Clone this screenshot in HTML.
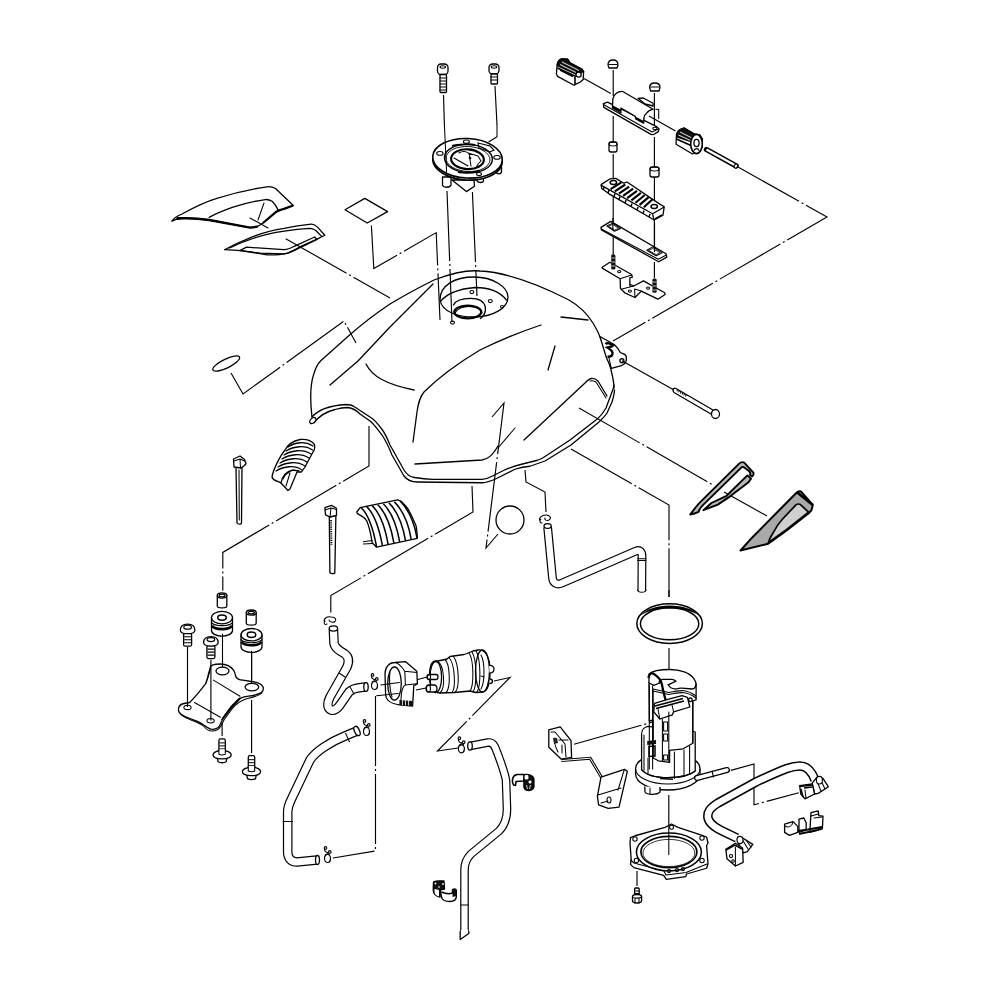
<!DOCTYPE html>
<html><head><meta charset="utf-8">
<style>
html,body{margin:0;padding:0;background:#fff;width:1000px;height:1000px;overflow:hidden}
svg{display:block}
.o{fill:none;stroke:#000;stroke-width:1.3;stroke-linecap:round;stroke-linejoin:round}
.t{fill:none;stroke:#000;stroke-width:1.05;stroke-linecap:round;stroke-linejoin:round}
.w{fill:#fff;stroke:#000;stroke-width:1.3;stroke-linejoin:round}
.d{fill:none;stroke:#000;stroke-width:1.15;stroke-dasharray:70 3 2 3}
.k{fill:#111;stroke:#000;stroke-width:1.2}
</style></head><body>
<svg width="1000" height="1000" viewBox="0 0 1000 1000">
<!-- A: fuel cap & bolts -->
<g id="A">
<path class="d" d="M443.5,95 L444.4,125 M447,191 L452,322"/>
<path class="d" d="M495,86 L497,125 M472.4,192 L477,296"/>
<rect class="w" x="437.5" y="64" width="10.5" height="10.5" rx="3.5"/><ellipse class="t" cx="442.8" cy="67" rx="2.8" ry="1.2"/>
<rect class="w" x="440" y="74.5" width="6.5" height="18" rx="1"/>
<path class="t" d="M440,78h6.5M440,81h6.5M440,84h6.5M440,87h6.5M440,90h6.5"/>
<rect class="w" x="489" y="64" width="10" height="10" rx="3.5"/><ellipse class="t" cx="494" cy="67" rx="2.8" ry="1.2"/>
<rect class="w" x="491" y="74" width="6.5" height="10" rx="1"/>
<path class="t" d="M491,77h6.5M491,80h6.5"/>
</g>
<!-- D: tank -->
<g id="D">
<path class="o" d="M312,417 C310,400 310,385 313.8,374 C315.5,368 317.5,364 321,360.5 L349,335.6 C362,324 372,316 390,304 C405,295 420,287 434,280 C455,272 470,270 480,271 C500,272 530,280 569,300 C590,312 600,330 610,366 C612,374 614,380 614,388"/>
<path class="o" d="M312,417 C318,410 330,405.5 346,404.5 C350,404.5 352,405 354,406.5 L370,417 C375,420 378,424 381,428 C385,433 388,440 390,445 L404,470 C407,475 410,477 414.5,477.5 C420,478.5 426,479.3 432.5,479.3 L482,479.3 C486,479 489,478 492.5,476 L503,470.75 C510,467.5 516,465.5 522.5,464 L537.5,460.25 C541,459 543,458 545,456.5 L570,440 L596,420 C600,417 603,413 606,408 L612,392 C613.5,388 614,386 614,385"/>
<path class="o" d="M314,423 C318,417 325,412 335,409.5 C340,408 344,407.5 348,407.5 C352,408 356,410 360,414 L370,421 C374,424 378,430 382,435 C386,441 390,450 392,455 L404,476 C407,480 412,482 417.5,482 L482,482.75 C488,482.5 492,480.5 497,478.25 L515,469.25 C520,467.5 525,466.5 530,466.25 L545,461 L571,445 L599,422 C603,418 606,415 607,413 L612,402 C613.5,397 614.5,393 614.5,390"/>
<ellipse cx="312.8" cy="420.5" rx="3.6" ry="2.3" transform="rotate(-45 312.8 420.5)" fill="#fff" stroke="#000" stroke-width="1.2"/>
<path class="o" d="M330,385 L358,361 L390,327 L433,284"/>
<path class="o" d="M366,364 C372,376 385,384 414,390"/>
<path class="o" d="M541,325 C520,332 500,340 480,350 C460,362 440,376 424,392 C419,398 418,405 417,412 L413,442"/>
<path class="o" d="M561,317 L588,320"/>
<path class="o" d="M555,346 L548,370"/>
<path class="o" d="M524,440 L585,383 C587,381 589,379 591,378.5 C594,378 596,379 598,381 L607,396"/><path class="t" d="M590,381 C592,380.5 594,381 596,382 L606,398"/>
<path class="o" d="M415,464 L482,460 C488,459 492,456 498,446"/>
<path class="o" d="M440,300 C440,285 455,277 474,277 C493,277 508,287 508,297 C508,308 493,317 474,317 C458,317 442,312 440,300"/>
<path class="o" d="M440.8,301 C446,295 457,289 475,287.5 C490,287.5 501,293 506.5,300.1"/>
<path class="o" d="M453.4,305 C456,300 463,298.3 470.5,298.3 C478,298.3 484,301 485.3,307 C486,312 484,316 480.4,318.5"/>
<ellipse cx="467.8" cy="312" rx="13.5" ry="6.3" fill="none" stroke="#000" stroke-width="2.3"/>
<path class="t" d="M455,313 C458,308 464,306.5 469,306.5 C476,306.5 481,309 482,313"/>
<ellipse class="t" cx="471.85" cy="292" rx="2" ry="1.6"/><ellipse class="t" cx="490.3" cy="301" rx="2" ry="1.6"/><ellipse class="t" cx="502" cy="306.85" rx="1.6" ry="1.3"/><ellipse class="t" cx="452.5" cy="322.6" rx="2" ry="1.5"/>
</g>
<!-- B: top right hinge -->
<g id="B">
<path class="d" d="M584,78.4 L610.8,93.6"/>
<path class="d" d="M649,116 L675.5,131"/>
<path class="d" d="M738,167 L827,217 L613,341"/>
<path class="d" d="M613.2,70 L613.2,96 M613.2,116 L613.2,142 M613.2,154 L613.2,180 M613.2,190 L613.2,222 M613.2,232 L613.2,255"/>
<path class="d" d="M654.4,93 L654.4,125 M654.4,137 L654.4,167 M654.4,177 L654.4,205 M654.4,220 L654.4,252 M654.4,262 L654.4,278"/>
<!-- grommet L -->
<path class="w" d="M556.4,74 L557.2,64.4 C558,61 560,59 562,58.8 L567.6,59.2 L570,62.8 L582,69.2 L583.6,71.6 L583.2,79.6 L580.4,82 L574,85.2 L557.6,76.4 Z"/>
<path d="M557.2,64.4 C558,61 560,59 562,58.8 L567.6,59.2 L570,62.8 L582,69.2 L583.6,71.6 L576,74 L558,66 Z" fill="#111" stroke="#000" stroke-width="1.2"/>
<path d="M562,62 L579,70.5 M560,64.5 L576,72.5" stroke="#fff" stroke-width="0.9"/>
<path d="M557.5,68 L575,76 L575,84.5" fill="none" stroke="#000" stroke-width="1.6"/>
<path d="M560,70 L573,76.5" stroke="#000" stroke-width="1.6"/>
<circle cx="578.6" cy="74.6" r="2.6" fill="#fff" stroke="#000" stroke-width="1.3"/>
<!-- grommet R -->
<path class="w" d="M676,144 L676.5,134.5 C677,132 678,130.5 680,129.5 L684,128 L694.5,134 L700,135 L702.5,139 L702,147 L699.5,151.5 L692.5,154 L676.5,144.5 Z"/>
<path d="M676.5,134.5 C677,132 678,130.5 680,129.5 L684,128 L694.5,134 L692,142 L677,137 Z" fill="#111" stroke="#000" stroke-width="1.2"/>
<path d="M680,132 L693,138.5 M678.5,135 L691.5,141" stroke="#fff" stroke-width="0.9"/>
<path d="M676.5,139 L691,145.5" stroke="#000" stroke-width="1.6"/>
<ellipse cx="696.5" cy="144" rx="5.8" ry="9.6" fill="#fff" stroke="#000" stroke-width="1.6"/>
<ellipse cx="696.5" cy="143" rx="2.6" ry="3.6" fill="none" stroke="#000" stroke-width="1.3"/>
<path class="t" d="M694,150.5 C695,148 698,148 699,150.5"/>
<!-- nuts -->
<path class="w" d="M608,65 C608,61.5 610.5,60 613,60 C615.5,60 618,61.5 618,65 L617,68 L609,68 Z"/>
<path class="t" d="M609,64.5 H617"/>
<path class="w" d="M649.6,87.5 C649.6,84.5 652,83 654.8,83 C657.5,83 660,84.5 660,87.5 L659,91 L650.6,91 Z"/>
<path class="t" d="M650.6,87 H659"/>
<!-- collars -->
<rect class="w" x="609" y="142" width="8" height="10" rx="2"/>
<ellipse class="t" cx="613" cy="144" rx="4" ry="2"/>
<rect class="w" x="650" y="167" width="9" height="10" rx="2"/>
<ellipse class="t" cx="654.5" cy="169" rx="4.5" ry="2"/>
<!-- hinge bracket -->
<path class="w" d="M638,98.3 L643.3,98 L653.1,103.2 L653.1,106 L645,104 Z" stroke-width="1.4"/>
<path class="w" d="M603.4,103.6 L607.6,102.2 L656.6,126.7 L659,128.8 L658.4,131.6 L653.1,134.7 L651,134.4 L603.75,107.4 Z"/>
<path class="t" d="M603.5,104.5 L652,132 L658.5,129"/>
<path class="w" d="M612.5,105.3 L612.85,99 C613.5,96 614.5,94.5 616,93.4 C618,91.8 620,91.3 622.3,91.3 L653.1,109.2 C650,110 648,111 646.8,113 C645,114.5 644,116 644,117.6 L643.65,123.2 L635.6,118.6 L635.25,116.2 L620.9,108.1 L620.9,113 L612.5,108 Z"/>
<path d="M612.5,106.5 L620.9,111 M635.8,118 L643.6,122.2" stroke="#000" stroke-width="2.2"/>
<path class="t" d="M655.9,109.2 L658.7,109.5 L658.7,118.6"/>
<ellipse class="t" cx="654.85" cy="128.4" rx="2.1" ry="1.2"/>
<!-- pin -->
<path d="M706.5,149.5 L736,165.8" stroke="#000" stroke-width="5.4" stroke-linecap="round"/>
<path d="M706.5,149.5 L736,165.8" stroke="#fff" stroke-width="2.4" stroke-linecap="butt"/>
<ellipse cx="736" cy="166" rx="1.6" ry="2.2" transform="rotate(28 736 166)" fill="#fff" stroke="#000" stroke-width="1.1"/>
<!-- rubber strip -->
<path class="w" d="M601,185.2 L601.8,188.4 L608.6,193.6 L654.2,220 L663,215.2 L664.2,206.8 L659,203.6 L627,182 L623.8,183.2 L615.8,178.4 L610.2,178.8 L601.4,184.4 Z"/>
<path class="o" d="M601.8,185.6 L652.6,213.8 L663.8,207.2 M652.6,213.8 L654,220"/>
<path d="M621.4,182.4 L610.6,189.2 M625.3,184.5 L614.8,191.4 M629.2,186.6 L618.9,193.7 M633.1,188.7 L623.1,195.9 M637.0,190.8 L627.2,198.2 M640.9,192.9 L631.4,200.4 M644.8,195.0 L635.5,202.7 M648.7,197.1 L639.6,204.9 M652.6,199.2 L643.8,207.2 " stroke="#000" stroke-width="2.1" fill="none"/>
<path d="M603,190 L604,187.5 M608,193 L609,190 M614,196.5 L615,193.5 M619,199.5 L620,196.5 M625,203 L626,200 M631,206.5 L632,203.5 M637,210 L638,207 M643,213.5 L644,210.5 M649,217 L650,214 M655,219 L662,215" stroke="#000" stroke-width="1.5"/>
<ellipse cx="613.4" cy="182.6" rx="3.2" ry="2" fill="#fff" stroke="#000" stroke-width="1.5"/>
<ellipse cx="654.2" cy="206.4" rx="3.2" ry="2" fill="#fff" stroke="#000" stroke-width="1.5"/>
<!-- plate -->
<path class="w" d="M600.95,227.35 L610.7,221.4 L666,253.7 L666.8,257.1 L658.75,261.8 L601.4,229.9 Z"/>
<path class="t" d="M601.4,229 L658.3,259.2 L666.4,254.97"/>
<path class="t" d="M606.9,226 L612.85,223.1 L620.5,228.6 L614.55,231.2 Z M646.85,250.3 L652.8,246.9 L662.15,252.85 L656.2,255.8 Z"/>
<path d="M608.5,226.2 L612.8,224.4 L618.5,228.4 L614.5,230 Z M648.5,250.4 L652.8,248.4 L660,252.8 L656.2,254.6 Z" fill="none" stroke="#000" stroke-width="0.8"/>
<path class="d" d="M612.85,218 L612.85,230 M654.5,223 L654.5,252"/>
<!-- bracket -->
<path class="w" d="M602.2,267.3 L609.9,262.2 L631.55,274.5 L632.4,277.1 L629.85,277.9 L629.85,284.3 L633.7,286 L643.45,280.9 L664.7,292.8 L665.1,294.5 L657.9,299.2 L641.3,291.1 L634.95,297.5 L624.75,292.8 L620.5,288.55 L620.1,278.8 L602.2,268.15 Z"/>
<path class="t" d="M620.1,278.8 L631.5,275 M622,289 L633.7,286 M629.85,284.3 L630,287 M634.95,297.5 L634.6,289 L641.3,291.1"/>
<ellipse class="t" cx="619.2" cy="271.6" rx="1.6" ry="1.1"/>
<ellipse class="t" cx="629.85" cy="291.1" rx="1.6" ry="1.1"/>
<ellipse class="t" cx="648.1" cy="288.1" rx="1.6" ry="1.1"/>
<rect x="611.15" y="254.6" width="4.3" height="14.8" fill="#111" rx="1.5"/>
<path d="M611.2,258h4.2M611.2,262h4.2M611.2,266h4.2" stroke="#fff" stroke-width="0.7"/>
<rect x="652.4" y="278.4" width="4.3" height="14.4" fill="#111" rx="1.5"/>
<path d="M652.4,282h4.2M652.4,286h4.2M652.4,290h4.2" stroke="#fff" stroke-width="0.7"/>
</g>
<!-- C: left trims, decal, ellipse, leaders -->
<g id="C">
<path class="w" d="M171.8,221.2 C174,218 178,215.5 182,214 C195,207 205,202 216,198.7 C235,192.5 252,189 267,186.8 C270,186.3 273,187 275.5,188.5 L293.35,205.5 L284,208.9 C280,210 277,211 275.5,212.3 L263.6,222.5 C261,224.5 259,226 256.8,226.75 C254,227.6 252,227.8 250,227.6 L209.2,220 C200,218.6 190,218 182,218.25 C177,218.5 174,220 171.8,221.2 Z"/>
<path class="o" d="M209.2,217.4 C217,213 225,210 233,207.2 C245,203 255,201 265.3,199.55 C268,199.3 270,200 272.1,201.25 C274.5,203.5 276.5,206.5 278,209.75"/>
<path d="M177.5,218.3 L182,218.25 C190,218 200,218.6 209.2,220 L250,227.6 L256.8,226.75" fill="none" stroke="#000" stroke-width="2.4" stroke-linecap="round"/>
<path d="M263.6,222.5 L275.5,212.3 C277,211 280,210 284,208.9 L292.5,205.8" fill="none" stroke="#000" stroke-width="2.2" stroke-linecap="round"/>
<path class="t" d="M176,219.5 L183,218.5"/>
<path class="t" d="M264,203 L258,220 M250,218 L268,228"/>
<path class="w" d="M224.5,249.7 C233,245 242,241 250,237.8 C262,233 273,230 284,228.45 C293,226.5 303,225 311.2,224.2 C314,224 316,225.5 318,227.6 L324.8,235.25 L318,238.65 L301,246.3 C296,249 292,251.5 287.4,253.1 C281,254.8 274,255 267,254.8 L241.5,250.55 Z"/>
<path class="o" d="M229.6,248 C242,242 254,237.5 267,234.4 C281,231 295,229.5 309.5,228.45 C313,228.5 316,230.5 318,232.7 L321.4,236.1"/>
<path class="o" d="M239.8,250.55 L246.6,247.15 L284,249.7 C288,249.5 291,248 294.2,246.3 L314.6,237 L317.15,239.5 L295.9,249.7 C291,252 288,253.5 284,253.95 L260.2,253.1 Z"/>
<path class="d" d="M285.7,238.65 L390,298"/>
<path class="w" d="M345,209.8 L364.8,198.4 L387.6,211.6 L367.2,223 Z"/>
<path class="d" d="M371.4,225.5 L373.8,268.6 L436.2,232.6 L440,320"/>
<ellipse class="o" cx="226.2" cy="363.6" rx="14.8" ry="4.4" transform="rotate(-26 226.2 363.6)"/>
<path class="d" d="M231,373 L243,394 L344,321 L356,343"/>
<path class="d" d="M369,426 L369,466 L222.8,552.4 L222.8,590.8"/>
<path class="d" d="M472,486 L473,512 L330.8,595.6 L330.8,612.4"/>
<path class="d" d="M492,417 L504,403 L486,548 L498,534"/>
<path class="t" d="M515,428 L498,448"/>
<path class="d" d="M525,470 L526,482 L545,492 L546,512"/>
<path class="d" d="M571,449 L669,505 L669,597"/>
<path class="d" d="M579,408 L713,485 M724,492 L767,516"/>
<circle class="o" cx="510" cy="520" r="14"/>
</g>

<!-- F: left parts -->
<g id="F">
<!-- cable tie 1 -->
<path class="w" d="M236,467 L237,523 C238,524.5 241,524.5 241.5,523 L242,467 Z"/>
<path class="t" d="M239,470 L239.3,520"/>
<path class="w" d="M233.5,459 L240,456 L244.5,459.5 L246,463.5 L244.5,465.5 L241,468 L234,467 Z"/>
<path class="t" d="M234,461 L240,459 L244.5,461 M240,459 L240.5,468"/>
<!-- damper 1 -->
<path class="w" d="M272,477 C273,470 280,456 285,450 C288,445 291,441.5 300,439.5 C305,439 311,440 314.5,444.5 C315,448 314,451 313,452 L305,467 L301.5,472 L297,472 L290,489 L288,490.5 L281,483 C278,481 273,481 272,477 Z"/>
<path class="o" d="M288,447 C295,442 305,441 313,446 M286,451 C294,446 305,445 312.5,450 M284,455 C292,450 303,449 311,454 M282,459 C290,454 301,453 309,458 M280,463 C288,458 299,457 307,462 M278,467 C286,462 297,461 305,466 M276,471 C284,466 295,465 302,470"/>
<path class="o" d="M281,483 C282,477 285,472 293,470 L299,471"/>
<path class="t" d="M283,479 C285,474 288,472 290,473 L286,486"/>
<!-- cable tie 2 -->
<path class="w" d="M329.3,517 L329.9,572.5 C331,574 334,574 334.8,573 L335.9,515.3 Z"/>
<path d="M331,520 L331.5,545" stroke="#000" stroke-width="1.8" stroke-dasharray="1.2 1"/>
<path class="w" d="M324.9,507.6 L331.5,505.4 L336.5,508.2 L336.5,515.3 L329.9,517 L325.5,514.8 Z"/>
<path class="t" d="M325,510 L331,508 L336.5,509.5 M331,508 L330,517"/>
<!-- damper 2 -->
<path class="w" d="M356.8,512 L360.1,507.6 L397.5,499.9 L400.8,501 C405,505 409,510 409.6,512 C413,518 416,526 416.2,526.3 C417,532 417.5,536 417.3,538.4 L376.6,547.2 L372.2,542.8 C371,535 369,526 366.7,520.8 C364,517 360,515 357.4,513.7 Z"/>
<path d="M361.0,507.5 C369.0,515.0 373.5,530.0 376.6,547.0 M366.6,506.6 C374.6,514.1 379.3,528.6 382.4,545.7 M372.1,505.6 C380.1,513.3 385.1,527.1 388.1,544.4 M377.7,504.7 C385.7,512.4 390.9,525.7 393.9,543.1 M383.3,503.8 C391.3,511.6 396.6,524.3 399.7,541.9 M388.9,502.9 C396.9,510.7 402.4,522.9 405.5,540.6 M394.4,501.9 C402.4,509.9 408.2,521.4 411.2,539.3 M400.0,501.0 C408.0,509.0 414.0,520.0 417.0,538.0 " fill="none" stroke="#000" stroke-width="1.5"/>
<path class="t" d="M363.4,541.7 L372.2,540.6 M363.4,544 L372.2,543.5"/>
</g>

<!-- G: bracket assembly -->
<g id="G">
<path class="d" d="M251.6,651 L251.6,684"/>
<path class="t" d="M222.5,634 L222.5,672"/>
<!-- bracket -->
<path class="w" d="M178.4,710 C178.4,706 181,704 184,703.5 L189.6,702.5 C193,699 196,696 198,693.4 L205.7,683.6 C207,680 208,677 208.5,673.8 L210.6,667 C211,664.5 216,664 220.4,664 C226,664 230.2,665.4 233.7,670.3 C235,673 235.5,675 235.8,676.6 C237,679 240,680 242.8,680.1 L251.2,681.5 C256,682 261,683 263.1,687 C264,690 262,693 259.6,693.4 C257,694.5 252,696 248.4,696.2 C245,696.5 242,697.5 240,698.3 C236,701 234,704 231.6,706 L223,718 C221,723 220,726 218.3,727.5 C215,729.5 212,729.5 210.6,729 C207,728 205,726 203,724.5 C200,722 195,720.5 190,718.5 C184,716.5 178.4,714 178.4,710 Z"/>
<path class="t" d="M179,712 C181,716 186,718 190,719.5 C196,722 201,723.5 204,726.5 C206,729 209,731 212,731 C216,731 219,729.5 221,726 L224,720 L232,709 C235,705 240,701 246,699 C252,697.5 259,696 262,693 M240,698.3 C238,700 236,702 233,705 L223,718"/>
<path d="M221.8,720 L230.2,708.8 L240,698.3" fill="none" stroke="#000" stroke-width="2"/>
<path class="t" d="M213.4,680.1 L240,696.2 M194.5,702.5 L220.4,717.2 M210.6,666 C210,672 208,678 205.7,683.6"/>
<ellipse class="w" cx="222.5" cy="671" rx="6.5" ry="3.8" stroke-width="1.3"/>
<ellipse class="w" cx="251.9" cy="687.1" rx="6.8" ry="3.8" stroke-width="1.3"/>
<ellipse class="t" cx="187.5" cy="707.4" rx="3.6" ry="2.2"/>
<ellipse class="t" cx="210.6" cy="720.7" rx="3.6" ry="2.2"/>
<path class="w" d="M217.3,595.3 L217.3,605.9 C217.3,608.4 226.8,608.4 226.8,605.9 L226.8,595.3 Z"/>
<ellipse class="w" cx="222.05" cy="595.5" rx="4.75" ry="2.6"/>
<ellipse cx="222.05" cy="595.5" rx="2.95" ry="1.3" fill="none" stroke="#000" stroke-width="1.2"/>
<path class="w" d="M211.5,617.6 L211.5,630.2 C211.5,634.2 217,636.2 222,636.2 C227,636.2 232.5,634.2 232.5,630.2 L232.5,617.6 Z"/>
<path d="M212,625.7 C215,630.2 229,630.2 232,625.7" stroke="#000" stroke-width="2.6" fill="none"/>
<path class="t" d="M211.5,622.6 C215,626.6 229,626.6 232.5,622.6"/>
<ellipse class="w" cx="222" cy="617.6" rx="10.5" ry="6.2"/>
<ellipse cx="222" cy="617.6" rx="4.3" ry="2.7" fill="none" stroke="#000" stroke-width="1.5"/>
<path class="w" d="M246.3,612.4 L246.3,623.2 C246.3,625.7 256.2,625.7 256.2,623.2 L256.2,612.4 Z"/>
<ellipse class="w" cx="251.25" cy="612.6" rx="4.95" ry="2.6"/>
<ellipse cx="251.25" cy="612.6" rx="3.1500000000000004" ry="1.3" fill="none" stroke="#000" stroke-width="1.2"/>
<path class="w" d="M241.0,634.7 L241.0,646.4000000000001 C241.0,650.4000000000001 246.5,652.4000000000001 251.5,652.4000000000001 C256.5,652.4000000000001 262.0,650.4000000000001 262.0,646.4000000000001 L262.0,634.7 Z"/>
<path d="M241.5,641.9000000000001 C244.5,646.4000000000001 258.5,646.4000000000001 261.5,641.9000000000001" stroke="#000" stroke-width="2.6" fill="none"/>
<path class="t" d="M241.0,639.7 C244.5,643.7 258.5,643.7 262.0,639.7"/>
<ellipse class="w" cx="251.5" cy="634.7" rx="10.5" ry="6.2"/>
<ellipse cx="251.5" cy="634.7" rx="4.3" ry="2.7" fill="none" stroke="#000" stroke-width="1.5"/>
<rect class="w" x="183.6" y="633.2" width="8" height="13" rx="1.5" stroke-width="1.2"/>
<path d="M184.1,636.7h7M184.1,639.7h7M184.1,642.7h7" stroke="#000" stroke-width="1.1"/>
<path class="w" d="M180.29999999999998,630.2 C180.29999999999998,625.2 183.6,624.2 187.6,624.2 C191.6,624.2 194.9,625.2 194.9,630.2 C194.9,632.7 191.6,633.7 187.6,633.7 C183.6,633.7 180.29999999999998,632.7 180.29999999999998,630.2 Z"/>
<ellipse cx="187.6" cy="627.2" rx="3.8" ry="2" fill="none" stroke="#000" stroke-width="1.2"/>
<rect class="w" x="206.9" y="645.6" width="8" height="13" rx="1.5" stroke-width="1.2"/>
<path d="M207.4,649.1h7M207.4,652.1h7M207.4,655.1h7" stroke="#000" stroke-width="1.1"/>
<path class="w" d="M203.6,642.6 C203.6,637.6 206.9,636.6 210.9,636.6 C214.9,636.6 218.20000000000002,637.6 218.20000000000002,642.6 C218.20000000000002,645.1 214.9,646.1 210.9,646.1 C206.9,646.1 203.6,645.1 203.6,642.6 Z"/>
<ellipse cx="210.9" cy="639.6" rx="3.8" ry="2" fill="none" stroke="#000" stroke-width="1.2"/>
<rect class="w" x="218.9" y="738.9" width="6.4" height="15.399999999999977" rx="1.5" stroke-width="1.2"/>
<path d="M219.29999999999998,742.9h5.6M219.29999999999998,745.9h5.6M219.29999999999998,748.9h5.6" stroke="#000" stroke-width="1"/>
<path class="w" d="M216.9,756.3 L218.1,761.8 C220.1,763.0999999999999 224.1,763.0999999999999 226.1,761.8 L227.29999999999998,756.3 Z" stroke-width="1.2"/>
<path class="w" d="M213.0,754.8 C213.0,751.8 218.1,750.5 222.1,750.5 C226.1,750.5 231.2,751.8 231.2,754.8 C231.2,757.8 226.1,758.9 222.1,758.9 C218.1,758.9 213.0,757.8 213.0,754.8 Z" stroke-width="1.3"/>
<rect x="218.9" y="749.3" width="6.4" height="5" fill="#fff"/>
<path class="t" d="M218.9,749.3 L218.9,754.3 M225.29999999999998,749.3 L225.29999999999998,754.3 M218.9,754.3 C221.1,755.3 223.1,755.3 225.29999999999998,754.3"/>
<rect class="w" x="248.3" y="755.7" width="6.4" height="15.399999999999977" rx="1.5" stroke-width="1.2"/>
<path d="M248.7,759.7h5.6M248.7,762.7h5.6M248.7,765.7h5.6" stroke="#000" stroke-width="1"/>
<path class="w" d="M246.3,773.1 L247.5,778.6 C249.5,779.9 253.5,779.9 255.5,778.6 L256.7,773.1 Z" stroke-width="1.2"/>
<path class="w" d="M242.4,771.6 C242.4,768.6 247.5,767.3000000000001 251.5,767.3000000000001 C255.5,767.3000000000001 260.6,768.6 260.6,771.6 C260.6,774.6 255.5,775.7 251.5,775.7 C247.5,775.7 242.4,774.6 242.4,771.6 Z" stroke-width="1.3"/>
<rect x="248.3" y="766.1" width="6.4" height="5" fill="#fff"/>
<path class="t" d="M248.3,766.1 L248.3,771.1 M254.7,766.1 L254.7,771.1 M248.3,771.1 C250.5,772.1 252.5,772.1 254.7,771.1"/>

<path class="d" d="M187.5,647 L187.5,707 M210.9,660 L210.9,720.5"/>
<path class="t" d="M222.5,634 L222.5,667 M251.6,651 L251.6,683"/>
<path class="d" d="M222.1,723 L222.1,736 M251.6,700 L251.6,753"/>
</g>
<!-- H: hoses & canister -->
<g id="H">
<path class="d" d="M375.5,696 L375.5,851 L333,858"/>
<path class="d" d="M494,681 L510,677.5 L437.5,751 L458,748"/>

<path class="d" d="M416,680 L427,677 M416,690 L426,688"/>
<!-- hose 1 -->
<path d="M333.4,629 L334,643 C334.5,648 340,651 345,654 C349,657 349,662 347,667 L330,697 C327,703 327,708 331,710 C334,711 337,709 340,705 L349,692 C352,689 356,688 361,687.5 L366,687" fill="none" stroke="#000" stroke-width="9.6" stroke-linejoin="round"/>
<path d="M333.4,629 L334,643 C334.5,648 340,651 345,654 C349,657 349,662 347,667 L330,697 C327,703 327,708 331,710 C334,711 337,709 340,705 L349,692 C352,689 356,688 361,687.5 L366,687" fill="none" stroke="#fff" stroke-width="7.2" stroke-linejoin="round"/>
<ellipse class="w" cx="333.4" cy="628.5" rx="4.2" ry="2.6" stroke-width="1.3"/>
<ellipse class="w" cx="366" cy="687" rx="2.2" ry="4.4" stroke-width="1.3"/>
<path class="t" d="M339,673 L345,677 M350,687 L354,694"/>
<path class="t" d="M324.5,622 C323,619 327,616 331,617 C335,617 337,619 335,621.5 C333,623 329,622 329,620 M327,624 C325,625 323,624 325,621"/>
<g transform="translate(374.5 685.5)"><ellipse cx="0" cy="0" rx="3" ry="4" fill="none" stroke="#000" stroke-width="1.2"/><circle cx="-2" cy="-10.6" r="1.3" fill="none" stroke="#000" stroke-width="1.1"/><circle cx="2.3" cy="-6.6" r="1.3" fill="none" stroke="#000" stroke-width="1.1"/><path d="M-3,-9.8 C-3.2,-7.5 -2,-6 1,-5.8 M-2.5,-3 C-1.5,-5 1,-5.2 2.5,-4" fill="none" stroke="#000" stroke-width="1.1"/></g>
<!-- hose 2 -->
<path d="M357,731 L345,736 C330,742 315,752 310,760 L291,800 C288,806 287.7,808 287.7,812 L287.7,852 C287.7,858 291,862 297,862 L317,860" fill="none" stroke="#000" stroke-width="9.6" stroke-linejoin="round"/>
<path d="M357,731 L345,736 C330,742 315,752 310,760 L291,800 C288,806 287.7,808 287.7,812 L287.7,852 C287.7,858 291,862 297,862 L317,860" fill="none" stroke="#fff" stroke-width="7.2" stroke-linejoin="round"/>
<ellipse class="w" cx="357" cy="731" rx="2.5" ry="5" transform="rotate(-25 357 731)" stroke-width="1.5"/>
<ellipse class="w" cx="317.5" cy="860" rx="2" ry="4.5" stroke-width="1.5"/>
<path class="t" d="M283,821.5 L292.4,821.5 M345.6,733.2 L349.4,741.8"/>
<g transform="translate(366.5 731.5)"><ellipse cx="0" cy="0" rx="3" ry="4" fill="none" stroke="#000" stroke-width="1.2"/><circle cx="-2" cy="-10.6" r="1.3" fill="none" stroke="#000" stroke-width="1.1"/><circle cx="2.3" cy="-6.6" r="1.3" fill="none" stroke="#000" stroke-width="1.1"/><path d="M-3,-9.8 C-3.2,-7.5 -2,-6 1,-5.8 M-2.5,-3 C-1.5,-5 1,-5.2 2.5,-4" fill="none" stroke="#000" stroke-width="1.1"/></g>
<g transform="translate(327.5 858.5)"><ellipse cx="0" cy="0" rx="3" ry="4" fill="none" stroke="#000" stroke-width="1.2"/><circle cx="-2" cy="-10.6" r="1.3" fill="none" stroke="#000" stroke-width="1.1"/><circle cx="2.3" cy="-6.6" r="1.3" fill="none" stroke="#000" stroke-width="1.1"/><path d="M-3,-9.8 C-3.2,-7.5 -2,-6 1,-5.8 M-2.5,-3 C-1.5,-5 1,-5.2 2.5,-4" fill="none" stroke="#000" stroke-width="1.1"/></g>
<!-- hose 3 -->
<path d="M470,746 L488,742.5 C493,742 495,746 497,752 C500,760 504,770 506,780 L507,809 C507,818 504,826 499,831 L471,854 C467,858 464.5,862 464.5,870 L464.5,932" fill="none" stroke="#000" stroke-width="8.6" stroke-linejoin="round"/>
<path d="M470,746 L488,742.5 C493,742 495,746 497,752 C500,760 504,770 506,780 L507,809 C507,818 504,826 499,831 L471,854 C467,858 464.5,862 464.5,870 L464.5,932" fill="none" stroke="#fff" stroke-width="6.2" stroke-linejoin="round"/>
<path d="M460.2,931 L460.2,939.5 L468.8,933.5 L468.8,931" fill="#fff" stroke="#000" stroke-width="1.3" stroke-linejoin="round"/><rect x="461" y="930" width="7" height="2" fill="#fff"/>
<ellipse class="w" cx="470" cy="746" rx="2.3" ry="4.1" stroke-width="1.3"/>
<path class="t" d="M461,905 H468"/>
<g transform="translate(461.4 748.8)"><ellipse cx="0" cy="0" rx="3" ry="4" fill="none" stroke="#000" stroke-width="1.2"/><circle cx="-2" cy="-10.6" r="1.3" fill="none" stroke="#000" stroke-width="1.1"/><circle cx="2.3" cy="-6.6" r="1.3" fill="none" stroke="#000" stroke-width="1.1"/><path d="M-3,-9.8 C-3.2,-7.5 -2,-6 1,-5.8 M-2.5,-3 C-1.5,-5 1,-5.2 2.5,-4" fill="none" stroke="#000" stroke-width="1.1"/></g>
<!-- hose 4 -->
<path d="M547.6,527 L552.5,578 C553,583 557,585 561,583.5 L636,551 C640,549.5 642,552 642,556 L641.8,591" fill="none" stroke="#000" stroke-width="8.8" stroke-linejoin="round"/>
<path d="M547.6,527 L552.5,578 C553,583 557,585 561,583.5 L636,551 C640,549.5 642,552 642,556 L641.8,591" fill="none" stroke="#fff" stroke-width="6.4" stroke-linejoin="round"/>
<ellipse class="w" cx="547.6" cy="526" rx="3.6" ry="2.4" stroke-width="1.2"/>
<path class="t" d="M637.6,558.8 L646,558.8 M637.6,560.5 L646,560.5"/><path class="t" d="M637.6,590 C638,593 645.6,593 646,590"/>
<path class="t" d="M540,521 C538,518 542,515 546,515 C550,515 552,518 549,520 C547,521 544,520 545,518 M542,523 C540,523 539,521 541,519"/>
<!-- clips -->
<path d="M433.5,882 C434,880.5 437,880.5 444,881 L444.5,889 L440,890 L440,897 C436,896.5 433.5,894 433.2,890 Z" fill="#111" stroke="#000" stroke-width="1.3" stroke-linejoin="round"/>
<path d="M434.5,889 L439,890 L439,896.5 C436,896 434.5,894 434.5,891 Z" fill="#fff"/>
<circle cx="435.5" cy="883.5" r="0.9" fill="#fff"/><circle cx="443" cy="884" r="0.9" fill="#fff"/><rect x="438.5" y="886" width="1" height="2" fill="#fff"/>
<path d="M440,890 L441.5,897 C442,900 446,901.5 450,901.5 C453,901.5 456,900 456.3,897 L456.2,890 C455,888.5 453,888.5 452.5,890 L452.5,893 C450,894 446,894 441.5,892" fill="#fff" stroke="#000" stroke-width="1.5" stroke-linejoin="round"/>
<path d="M452.5,890 L456.2,890 L456.3,896 L452.5,897 Z" fill="#111"/>
<path d="M513.5,785 C511.5,781 512,775.5 517,774.5 L524,774.5 L524,781 L516,781.5 L515.5,785.5 Z" fill="#fff" stroke="#000" stroke-width="1.6" stroke-linejoin="round"/>
<path d="M524,774.5 C529,774 534,775 534,780 L534,787 C533.5,790 530,791 527.5,790.5 C525,790 523.8,788 523.8,786 Z" fill="#111" stroke="#000" stroke-width="1.2"/>
<path d="M525,775.5 L528,775.5 L528,779 L525,779 Z M529,781 L531,781 L531,783 L529,783 Z M526.5,785 L527.5,789 M530.5,785 L529.5,789" fill="#fff" stroke="#fff" stroke-width="0.8"/>
<!-- canister clamp -->
<path class="w" d="M385,674 C385,667 389,662.5 395,662.5 L405.4,661.6 L416.8,671.2 L417.4,683.8 L413.8,685.6 L412.6,706 L399.4,704.8 C391,704 385.6,700 385.6,694 Z"/>
<ellipse cx="394.5" cy="683.5" rx="6.8" ry="16.5" fill="#fff" stroke="#000" stroke-width="1.3"/>
<path class="t" d="M395,662.5 C399,663 402,667 404.8,671.2 L416.8,672.4 M404.8,671.2 L405.4,685 L416.8,683.8 M405.4,685 C403,686 402,690 401.5,693 L400.5,704.8"/>
<path class="t" d="M390,672 C389,678 389.5,690 392,697"/>
<path d="M399.4,700 L412.6,701 L412.6,706 L399.4,704.8 Z" fill="#111"/>
<path d="M402.5,700v5M405.5,700v5.5M408.5,700v5.5" stroke="#fff" stroke-width="0.8"/>
<path class="t" d="M380.8,685 L399.4,682.6 M376.6,695.8 L398.2,693.4"/>
<!-- canister -->
<path class="w" d="M429.5,676 C429.5,666 432,661 436,661 L438,661 L447,659 L450,656.5 L464,654.5 L467,653.5 L473,651 L478,650 C486,649 490,658 490,671 C490,684 487,692 482,692 L476,692.5 L470,691 L454,692.5 L440,693 C433,693 429.5,686 429.5,676 Z"/>
<ellipse class="o" cx="435.8" cy="677" rx="5.8" ry="15.5"/>
<path class="t" d="M437.5,661.5 C444,664 446,688 440,693 M445,659.5 C450,664 451,688 446,692.5 M449,657.5 C455,664 456,688 452,692.5 M453.5,656.5 C459,664 460,688 455,692.5"/>
<path class="t" d="M469,653 C474,660 474,686 470,691 M472,652 C477,660 477,686 473,692 M476,650.5 C481,660 481,686 477,692"/>
<ellipse class="o" cx="482.5" cy="671" rx="7" ry="21"/>
<path class="t" d="M481,655 C485,662 485,682 481,689"/>
<path class="w" d="M489,665.5 C492,665 494,667 494,669 C494,672 492,673 489.5,673" stroke-width="1.2"/>
<path class="w" d="M489.5,679 C491.5,679 492.5,680 492.5,681.5 C492.5,683 491,683.5 489.5,683.5" stroke-width="1.1"/>
<path class="t" d="M481,676 L484,677"/>
<path class="w" d="M429,674.5 L436,674.5 C437.5,674.5 438,676 438,677 C438,678.5 437.5,679.5 436,679.5 L429,679.5 C427.5,679.5 427,678.5 427,677 C427,675.5 427.5,674.5 429,674.5 Z" stroke-width="1.1"/>
<ellipse class="t" cx="429" cy="677" rx="1.6" ry="2.4"/>
<path class="w" d="M428.5,685 L434,685 C436,685 437,687 437,688.5 C437,690.5 436,692 434,692 L428.5,692 C427,692 426,690.5 426,688.5 C426,687 427,685 428.5,685 Z" stroke-width="1.1"/>
<ellipse class="t" cx="428.5" cy="688.5" rx="2" ry="3.3"/>
</g>

<!-- P: pump, o-ring, float, harness, plate -->
<g id="P">
<path class="d" d="M669,590 L669,597 M669,648 L669,673"/>
<!-- O-ring -->
<ellipse cx="669.6" cy="623.6" rx="32.8" ry="19.8" fill="none" stroke="#000" stroke-width="1.5"/>
<ellipse cx="669.6" cy="623.8" rx="29.2" ry="16" fill="none" stroke="#000" stroke-width="1.5"/>
<path d="M640,616 C646,609 657,605.5 669.6,605.5 C682,605.5 694,609 700,616 C693,611 682,608.5 669.6,608.5 C657,608.5 646,611 640,616 Z" fill="#000"/>
<!-- float sender -->
<path class="d" d="M574,744.2 L655,721.4"/>
<path class="w" d="M548.8,729.8 L560.2,726.8 L571,740.6 L571.6,757.4 L561.4,759.2 L548.8,747.2 Z"/>
<path class="t" d="M551,732 L555,732 L565,744 L566,757 M559,740 L568,740 M555,738 C553,742 556,748 558,752 M562,745 L562,753"/>
<path d="M553,738 L557,738 L558,743 L554,744 Z" fill="#222"/>
<path d="M561.4,760.6 L590.2,758.2 L602.2,778.6" fill="none" stroke="#000" stroke-width="3"/>
<path d="M561.4,760.6 L590.2,758.2 L602.2,778.6" fill="none" stroke="#fff" stroke-width="1"/>
<path class="w" d="M601,777.2 L624.4,769.4 L627.4,771.2 L619,807.2 L608.2,808.4 L598.6,804.8 L597.4,796.4 Z"/>
<path class="t" d="M598,795 L621,788 M624.4,769.4 L618,790"/>
<ellipse class="t" cx="609" cy="800" rx="2" ry="3"/>
<path class="t" d="M601,803 L608,801"/>
<!-- pump -->
<path class="w" d="M635.6,768.5 C635.6,760 650,753 667.8,753 C685.6,753 700,760 700,768.5 L700,774 C700,783 685.6,790 667.8,790 C650,790 635.6,783 635.6,774 Z"/>
<path class="t" d="M635.6,769 C635.6,777 650,784 667.8,784 C685.6,784 700,777 700,769"/>
<path class="w" d="M644.8,786.5 L645,792 C647,795 657,795.2 660,792 L660,787" stroke-width="1.2"/>
<path class="t" d="M650,788 L650,794"/>
<path class="w" d="M641.6,769.6 L641.6,734.4 C641.6,730 644.5,727 648,726.4 L692,731 L695.2,732 L695.2,771 C690,775.5 680,777.6 668,777.6 C656,777.6 646,775 641.6,769.6 Z"/>
<path class="t" d="M641.6,769.6 C646,775 656,777.6 668,777.6 C680,777.6 690,775.5 695.2,771"/>
<path class="t" d="M644,735 L644,770 M648,758 L648,774 M674.4,752 L674.4,778.5 M684,750 L684,776.5 M689.6,746 L689.6,774"/>
<path d="M660,778.5 L673,779.3" stroke="#000" stroke-width="1.6"/>
<path class="w" d="M649,674 C652,671 660,669.5 670,669.5 C680,669.5 690,673 694,678.8 C696,682 696.1,684 696.1,684.2 L696.1,699.8 L692.8,701 L692.8,743.2 L683.2,748.8 L669.6,750.4 L669.6,762.4 L658.4,760.8 L653.2,758 L653.2,720 L649.3,721 L649,685 Z"/>
<path class="o" d="M668.2,684.8 C670,688 674,689 676,689 C679,688 680,688 682,688.1 L692.2,689 C694,689 695.5,688 696.1,684.2"/>
<path class="o" d="M668.2,684.8 L676,681.2 C674,679.5 672,679.4 671.8,679.4 L662.8,679.4 C660,680 658,682 659.8,683 L653.8,685.4 L649,683"/>
<path class="t" d="M653.2,689 L668.8,692.6 C672,691.8 678,690.6 682,690.6 C688,691 692,693 696,696 M653.2,691 L668.8,694.6 C672,693.8 678,692.6 682,692.6 C688,693 692,695 696,698"/>
<path class="t" d="M649.3,685 L649.3,769 M652.6,686 L652.6,769 M653.2,690 L653.2,719"/>
<path d="M648.4,678 C649,674.5 651,673 652.3,673.4 C654,673.6 656.5,675.5 660.4,680 C662,684 662.5,686 662.8,689 L665.8,701" fill="none" stroke="#000" stroke-width="2.3"/>
<path class="w" d="M654.4,703.4 L668.8,699.2 L682,695.6 L687.4,697.4 L689.8,707 L673.6,711.8 L672.4,714.8 L659.8,719 L653.8,711.8 Z" stroke-width="1.5"/>
<path d="M655,706 L670,702 L683,698.5 M656,708.5 L671,704.5 L684,701" fill="none" stroke="#000" stroke-width="1.8"/>
<path class="t" d="M673.6,711.8 L672,705 M659.8,719 L658,709"/>
<circle class="w" cx="690.4" cy="699.8" r="1.8" stroke-width="1.1"/>
<path class="t" d="M662.4,719 L662.4,761 M668.8,712 L668.8,762.4 M692.8,701 L692.8,743"/>
<rect class="t" x="663.6" y="722" width="4" height="9"/><rect class="t" x="663.6" y="734" width="4" height="7"/><rect class="t" x="663.6" y="755" width="4" height="5"/>
<path d="M647.2,741 L656,740 L656,744 L647.2,745 Z" fill="#111"/>
<path d="M649,746.5 L655,746 L655,756 L649,756.5 Z" fill="none" stroke="#000" stroke-width="1.5"/>
<!-- filter tube -->
<path d="M697,778 L727,770" stroke="#000" stroke-width="6" stroke-linecap="round"/>
<path d="M697,778 L727,770" stroke="#fff" stroke-width="3.4" stroke-linecap="round"/>
<path class="t" d="M712,771 L713.5,777"/>
<path class="d" d="M668.8,795 L668.8,826"/>
<!-- harness -->
<path class="d" d="M730.8,770.4 L754,764 L754,804.8 L798.8,792.8"/>
<path d="M815,780 C812,772 808,766 800,766 C792,766 786,768 756,782 L718,803 C710,808 707,812 708,818 C710,826 720,830 737,838" fill="none" stroke="#000" stroke-width="9.5" stroke-linejoin="round"/>
<path d="M815,780 C812,772 808,766 800,766 C792,766 786,768 756,782 L718,803 C710,808 707,812 708,818 C710,826 720,830 737,838" fill="none" stroke="#fff" stroke-width="6.5" stroke-linejoin="round"/>
<path class="w" d="M812.2,783.2 L817,777.2 L823,778.4 L828.4,786.8 L818.2,793.4 L814.6,794 Z" stroke-width="1.2"/>
<path class="t" d="M816,779 L821,791 M820,778.5 L825,789"/>
<ellipse cx="819.4" cy="780.2" rx="3" ry="3.8" fill="#fff" stroke="#000" stroke-width="1.1"/>
<path class="w" d="M799.6,785.6 L812.2,783.8 L814.6,794 L805,798.8 L800.8,794 Z" stroke-width="1.4"/>
<path d="M800,786.5 L812,785 M801,789 L803,797 M804,788 L812,787" stroke="#000" stroke-width="1.5"/>
<path class="t" d="M805,790 L806,798.5"/>
<path class="w" d="M737.8,842 L741.4,837.2 L752.8,844.4 L747.4,851.6 L743.2,852.8 Z" stroke-width="1.2"/>
<path class="t" d="M742,839 L748,849 M746,840 L751,847"/>
<ellipse cx="740" cy="840" rx="3" ry="3.6" fill="#fff" stroke="#000" stroke-width="1.1"/>
<path class="w" d="M725.8,849.2 L735.4,843.2 L742.6,848 L743.2,862.4 L735.4,866 L727,858.8 Z" stroke-width="1.4"/>
<path d="M726,850 L735,845 L742,849" fill="none" stroke="#000" stroke-width="1.5"/>
<circle class="t" cx="731" cy="856" r="1.6"/><circle class="t" cx="733" cy="861" r="1.3"/><path class="t" d="M735.4,847 L735.4,866"/>
<path class="w" d="M784.6,824 L793,821.6 L797.8,826.4 L797.8,832.4 L789.4,835.4 L784.6,832.4 Z" stroke-width="1.2"/>
<path class="t" d="M785,826 C788,828 792,827 793,822"/>
<path class="w" d="M799,819.2 L803.8,818 L806.2,822.8 L806.2,830 L799,832.4 Z" stroke-width="1.2"/>
<path class="w" d="M811,812.6 L818.2,810.8 L818.8,815.6 L823,816.2 L822.4,828.8 L809.8,832.4 Z" stroke-width="1.2"/>
<path class="t" d="M811,816 L818.5,814 M814,818 L822,817"/>
<path d="M797.8,831 L808,829.5 L822,827 L818,830 L799,834" fill="none" stroke="#000" stroke-width="1.8"/>
<!-- plate -->
<path class="w" d="M630.5,837.7 L635.1,835.75 L665,827.3 L671.5,824 L678,827.3 L701.4,835.1 L706.6,837 L708,843 L706.6,845.5 L708,863.7 L706.6,868.25 L686.5,874 L685.8,876.7 L666.3,879.3 L663.7,875.4 L633.8,867.6 L630.5,864.35 L631.2,859.8 L630,843 Z"/>
<path class="t" d="M630.5,860 L634,863 L664,871 L666,875 L686,872.5 L707,864"/>
<ellipse cx="668.9" cy="852" rx="32.5" ry="18.9" fill="none" stroke="#000" stroke-width="1.5"/>
<ellipse cx="668.9" cy="852" rx="28" ry="15.6" fill="none" stroke="#000" stroke-width="1.6"/>
<ellipse cx="668.9" cy="853" rx="26" ry="13.6" fill="none" stroke="#000" stroke-width="0.8"/>
<circle class="t" cx="635" cy="839" r="2.2"/><circle class="t" cx="702" cy="838" r="2.2"/><circle class="t" cx="636.4" cy="860.5" r="2.2"/><circle class="t" cx="702" cy="860.5" r="2.2"/><circle class="t" cx="671.5" cy="827.3" r="2"/>
<circle class="t" cx="669" cy="871" r="1.6"/><circle class="t" cx="677" cy="870" r="1.6"/><circle class="t" cx="683" cy="869" r="1.6"/>
<path class="t" d="M668.8,826 L668.8,854.6"/>
<path class="d" d="M637,871 L637,886"/>
<rect class="w" x="634.6" y="888" width="4.6" height="8" rx="1" stroke-width="1.2"/>
<path class="t" d="M634.6,891h4.6M634.6,893.5h4.6"/>
<path class="w" d="M632.5,896.5 C632.5,895 634.5,894.5 637,894.5 C639.5,894.5 641.6,895 641.6,896.5 L641.6,900.5 C641.6,902 639.5,903 637,903 C634.5,903 632.5,902 632.5,900.5 Z" stroke-width="1.2"/>
<path class="t" d="M632.5,897 C634,898.5 640,898.5 641.6,897 M635,898 L635,903 M639,898 L639,903"/>
<!-- long bolt -->
<path class="w" d="M676,388.5 L713,410 L711,414 L674,392.5 C672,391 673,387 676,388.5 Z" stroke-width="1.4"/>
<path d="M677,390 L687,396" stroke="#000" stroke-width="2.5" stroke-dasharray="1 1"/>
<ellipse class="w" cx="715.5" cy="414" rx="4" ry="4.5" stroke-width="1.5"/>
<!-- connector on tank -->
<path class="w" d="M599.9,336.55 L614.2,344.5 C617,347 619,350 620.25,352.5 L623,353.6 C625,354.5 626.3,355.5 626.3,357 L626.3,360.2 C626,362 625,363.5 624.1,364 L621.35,365.7 L611.45,368.45 L606.5,358 Z"/>
<path d="M605.5,344 C607,342.5 611,343.5 613,345.5 C612,347 609,347 607.5,347.5 C610,349 613,351 612.5,354 C612,356 610,357 607.5,356.5" fill="none" stroke="#000" stroke-width="2.4"/>
<path class="t" d="M609,358 L611,367"/>
<circle class="w" cx="621.9" cy="360.75" r="2" stroke-width="1.3"/>
<path class="d" d="M621.9,360.75 L674,390"/>
</g>

<!-- A2: cap ring -->
<g id="A2">
<path class="w" d="M442.5,177 L442.5,185 C443,188 450,188 451,185 L451,177 Z" stroke-width="1.4"/>
<path class="w" d="M452,180 L466.4,191.6 L474.5,186.2 L474,180 Z" stroke-width="1.4"/>
<path class="w" d="M477,178 L477,181 C478,183 483,183 483.5,181 L483.5,178 Z" stroke-width="1.3"/>
<path class="w" d="M496,167 L496,172 C497,174.5 501,174.5 501.5,172 L501.5,167 Z" stroke-width="1.3"/>
<ellipse cx="467.5" cy="160.3" rx="34.8" ry="19.8" transform="rotate(3 467.5 160.3)" fill="#fff" stroke="#000" stroke-width="1.6"/>
<ellipse cx="467.5" cy="158.3" rx="34.8" ry="19.8" transform="rotate(3 467.5 158.3)" fill="#fff" stroke="#000" stroke-width="1.6"/>
<ellipse cx="468.4" cy="158.5" rx="24" ry="14.1" transform="rotate(3 468.4 158.5)" fill="none" stroke="#000" stroke-width="1.4"/>
<ellipse cx="468" cy="159" rx="22" ry="12.5" transform="rotate(3 468 159)" fill="none" stroke="#000" stroke-width="0.9"/>
<ellipse cx="467.5" cy="159.2" rx="16.4" ry="9.9" transform="rotate(3 467.5 159.2)" fill="#fff" stroke="#000" stroke-width="2.2"/>
<path class="t" d="M454,158 L468,166 M459,153 C462,151 466,151 468,153 L478,156 L481,161 L478,164 L476,168 M469,153 L471,166"/>
<circle cx="470" cy="158" r="1.3" fill="#000"/>
<path d="M478,143 L490,146 L494,150 L490,152 L479,148 Z" fill="none" stroke="#000" stroke-width="1.1"/>
<path d="M452,146 C458,144 470,144 475,145" stroke="#000" stroke-width="2" fill="none"/>
<path d="M458,172 C464,173 472,173 480,171" stroke="#000" stroke-width="2" fill="none"/>
<ellipse class="t" cx="439.9" cy="153.4" rx="3.2" ry="1.8"/>
<ellipse class="t" cx="497" cy="157.4" rx="3.2" ry="1.8"/>
<ellipse class="t" cx="466.4" cy="141.7" rx="3" ry="1.6"/>
<ellipse class="t" cx="479" cy="174" rx="2.5" ry="1.5"/>
<path class="t" d="M444.4,125 L446.6,171.8"/>
<path class="t" d="M497,125 L497,136.7 L489,141.7"/>
</g>
<!-- T: gray trims -->
<g id="T">
<path d="M690.2,514.6 C695,508 698,504 701,501.4 L739.4,463.4 C741,462 743,462 744.2,462.6 L753.4,472.6 C754,474 753,476 752,476.5 L750,475 C751,473 750,472 749,471 L744.2,467.4 C743,466.5 742,466.8 741,467.8 L703.4,504.6 C700,508 699,510 698.6,511.8 C696,513 693,514 690.2,514.6 Z" fill="#b8b8b8" stroke="#000" stroke-width="1.9" stroke-linejoin="round"/>
<path d="M703.4,510.2 L711.4,503 L726.6,495.8 L747.4,475.4 L751,478.6 L748.2,482.6 L729.8,496.6 L717.8,504.6 Z" fill="#b8b8b8" stroke="#000" stroke-width="1.9" stroke-linejoin="round"/>
<path d="M740.5,550.5 L752,537.7 L797,492.2 C798,491.5 800,491.2 800.9,491.4 L812.8,505 L811.5,510.1 L809,513 L786,530.9 L768.2,543.7 Z" fill="#a9a9a9" stroke="#000" stroke-width="2" stroke-linejoin="round"/>
<path d="M768.2,542.8 C770,538 771,536 773.3,532.6 C776,527 779,523 782.6,519 L796.2,504.6 C797.5,503.8 799,503.8 800.5,504.6 L808.5,512.2 L786,530 Z" fill="#d0d0d0" stroke="#000" stroke-width="1.7" stroke-linejoin="round"/>
<path d="M797,492.2 L812.8,505" stroke="#000" stroke-width="2.6"/>
</g>

</svg>
</body></html>
